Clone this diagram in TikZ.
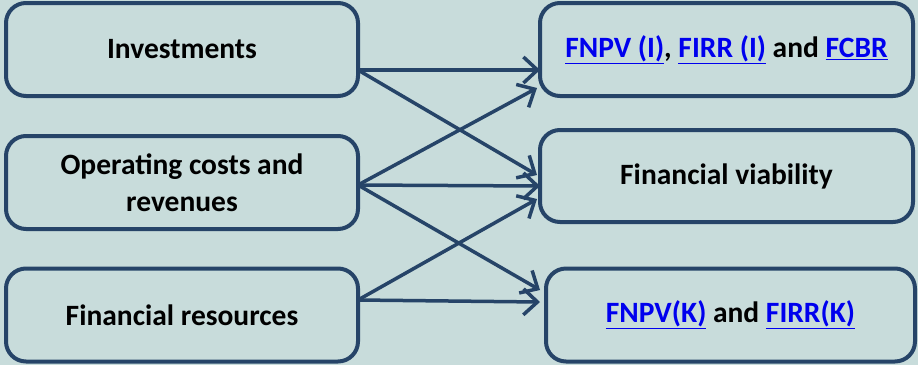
\documentclass[tikz,border=0pt]{standalone}
\usepackage{fontspec}
\setmainfont{Carlito}
\usetikzlibrary{arrows.meta}
\definecolor{bg}{HTML}{C8DCDB}
\definecolor{navy}{HTML}{264468}
\definecolor{lnk}{HTML}{0000EE}
\newcommand{\lk}[1]{\textcolor{lnk}{\underline{#1}}}
\begin{document}
\begin{tikzpicture}[x=1pt,y=-1pt,
  box/.style={draw=navy, line width=4pt, rounded corners=20pt, inner sep=0pt,
    font=\fontsize{29.5}{37}\selectfont\bfseries, align=center, text=black},
  conn/.style={draw=navy, line width=3.5pt, -{Straight Barb[length=14pt,width=26pt]}}]
\fill[bg] (0,0) rectangle (918,365);
\useasboundingbox (0,0) rectangle (918,365);
\node[box, minimum width=352pt, minimum height=93pt] (L1) at (182,49.5) {Investments};
\node[box, minimum width=352pt, minimum height=93pt] (L2) at (182,182.5) {Operating costs and\\revenues};
\node[box, minimum width=352pt, minimum height=93pt] (L3) at (182,315) {Financial resources};
\node[box, minimum width=373pt, minimum height=93pt] (R1) at (726.5,49.5) {\lk{FNPV (I)}, \lk{FIRR (I)} and \lk{FCBR}};
\node[box, minimum width=373pt, minimum height=92pt] (R2) at (726.5,176) {Financial viability};
\node[box, minimum width=369pt, minimum height=93pt] (R3) at (730.5,315) {\lk{FNPV(K)} and \lk{FIRR(K)}};
\coordinate (s1) at (358,70);
\coordinate (s2) at (358,185);
\coordinate (s3) at (358,300);
\coordinate (e11) at (540,70);
\coordinate (e12) at (537,88);
\coordinate (e21) at (537,175);
\coordinate (e22) at (540,186);
\coordinate (e23) at (537,199);
\coordinate (e31) at (540,290);
\coordinate (e32) at (540,302);
\draw[conn] (s1) -- (e11);
\draw[conn] (s1) -- (e21);
\draw[conn] (s2) -- (e12);
\draw[conn] (s2) -- (e22);
\draw[conn] (s2) -- (e31);
\draw[conn] (s3) -- (e23);
\draw[conn] (s3) -- (e32);
\end{tikzpicture}
\end{document}
